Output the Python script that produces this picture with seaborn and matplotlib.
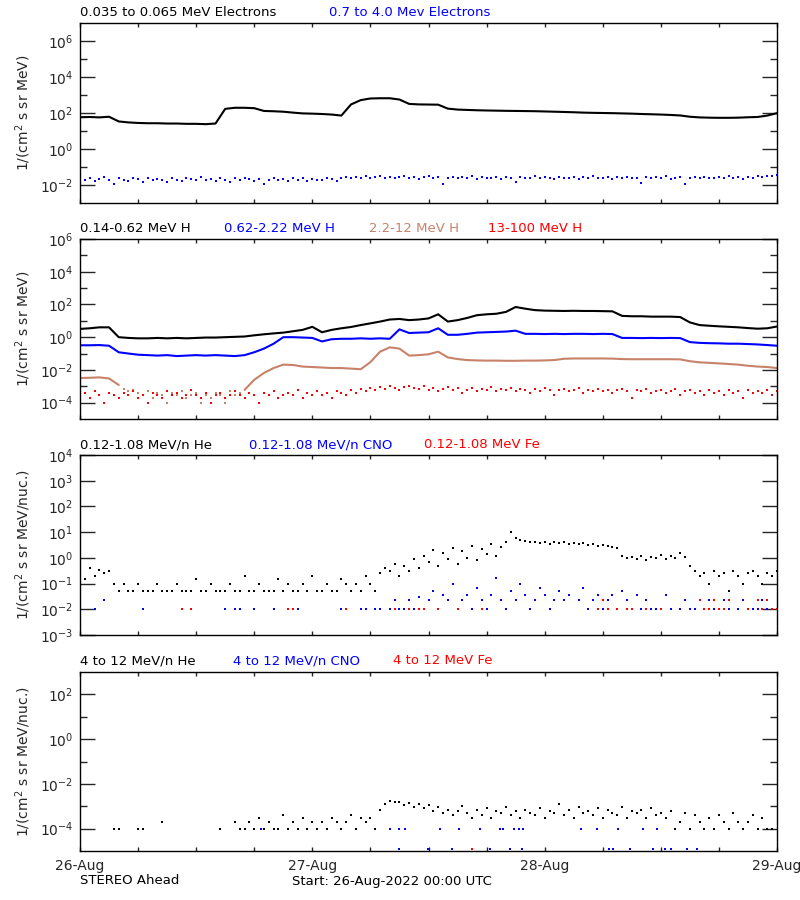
import numpy as np
import matplotlib
matplotlib.use("Agg")
import matplotlib.pyplot as plt
from matplotlib.ticker import FixedLocator, FixedFormatter, NullFormatter
import seaborn as sns

nan = np.nan
BROWN = "#C8826A"

# time grids, hours after 26-Aug-2022 00:00 UTC
hours = np.arange(0, 73)
half_hours = np.arange(0, 72.5, 0.5)

# panel 1: electrons
e_low = [58, 60, 57, 62, 34, 30, 28, 27, 27, 26, 26, 25, 25, 24, 26,
         170, 195, 195, 185, 130, 125, 118, 105, 95, 92, 88, 82, 72,
         300, 520, 640, 660, 660, 560, 320, 300, 295, 290,
         175, 155, 148, 142, 138, 135, 132, 130, 128, 126, 122, 118, 114, 110,
         105, 102, 100, 98, 95, 92, 88, 85, 82, 78, 73, 62, 57, 55, 54, 54,
         55, 58, 60, 72, 98]
e_high = [0.022, 0.018, 0.025, 0.016, 0.021, 0.027, 0.019, 0.012, 0.023, 0.020,
          0.017, 0.024, 0.021, 0.015, 0.026, 0.019, 0.022, 0.018, 0.014, 0.023,
          0.020, 0.016, 0.025, 0.021, 0.018, 0.028, 0.019, 0.022, 0.017, 0.024,
          0.020, 0.015, 0.023, 0.019, 0.026, 0.021, 0.017, 0.022, 0.012, 0.020,
          0.024, 0.018, 0.021, 0.016, 0.023, 0.019, 0.025, 0.017, 0.022, 0.020,
          0.018, 0.024, 0.021, 0.016, 0.026, 0.027, 0.023, 0.029, 0.025, 0.030,
          0.024, 0.028, 0.032, 0.026, 0.029, 0.023, 0.027, 0.031, 0.025, 0.028,
          0.022, 0.027, 0.030, 0.024, 0.028, 0.012, 0.026, 0.029, 0.023, 0.027,
          0.025, 0.030, 0.022, 0.028, 0.026, 0.024, 0.029, 0.021, 0.027, 0.025,
          0.014, 0.028, 0.024, 0.026, 0.030, 0.023, 0.027, 0.025, 0.022, 0.029,
          0.026, 0.024, 0.028, 0.021, 0.027, 0.025, 0.030, 0.023, 0.026, 0.028,
          0.022, 0.027, 0.025, 0.029, 0.024, 0.026, 0.013, 0.028, 0.023, 0.027,
          0.025, 0.030, 0.022, 0.026, 0.028, 0.011, 0.024, 0.027, 0.025, 0.029,
          0.023, 0.026, 0.028, 0.024, 0.030, 0.025, 0.027, 0.022, 0.029, 0.026,
          0.031, 0.028, 0.033, 0.030, 0.034]

# panel 2: protons
h_p1 = [3.2, 3.5, 4.0, 4.0, 1.0, 0.9, 0.85, 0.85, 0.9, 0.85,
        0.9, 0.85, 0.9, 0.95, 0.95, 1.0, 1.05, 1.1, 1.3, 1.5,
        1.7, 1.9, 2.3, 2.8, 4.3, 2.0, 2.8, 3.5, 4.2, 5.5,
        7.0, 9.0, 12, 13, 11, 12, 14, 25, 9, 11,
        15, 22, 25, 27, 35, 70, 55, 45, 42, 41,
        40, 41, 40, 40, 39, 38, 20, 19, 19, 18,
        18, 18, 17, 8.0, 5.5, 5.0, 4.6, 4.3, 4.0, 3.6,
        3.3, 3.5, 4.5]
h_p2 = [0.32, 0.32, 0.33, 0.30, 0.12, 0.10, 0.085, 0.08, 0.075, 0.08,
        0.07, 0.075, 0.08, 0.075, 0.08, 0.075, 0.07, 0.08, 0.12, 0.20,
        0.40, 1.0, 1.0, 0.95, 0.9, 0.55, 0.75, 0.8, 0.8, 0.85,
        0.8, 0.85, 0.8, 3.0, 1.8, 1.9, 2.0, 3.5, 1.4, 1.4,
        1.6, 1.9, 2.0, 2.1, 2.2, 2.5, 1.6, 1.6, 1.55, 1.6,
        1.55, 1.6, 1.6, 1.55, 1.6, 1.55, 0.9, 0.9, 0.88, 0.9,
        0.88, 0.9, 0.88, 0.5, 0.45, 0.43, 0.42, 0.4, 0.4, 0.38,
        0.36, 0.33, 0.3]
h_p3_early = [0.0032, 0.0033, 0.0035, 0.0030, 0.0012]          # h 0-4
h_p3_noise = [7e-4, 5e-4, 6e-4, 4e-4, 3e-4, 5e-4, 2e-4, 4e-4, 3e-4, 1e-4,
              4e-4, 3e-4, 5e-4, 2e-4, 3e-4, 4e-4, 1e-4, 3e-4, 2e-4, 4e-4,
              3e-4, 1e-4, 5e-4, 3e-4, 4e-4]                      # h 4.5-16.5
h_p3 = [0.0006, 0.0025, 0.0065, 0.013, 0.021, 0.02, 0.016, 0.015, 0.014, 0.013,
        0.013, 0.012, 0.011, 0.03, 0.13, 0.24, 0.2, 0.075, 0.08, 0.09,
        0.13, 0.058, 0.046, 0.04, 0.038, 0.037, 0.037, 0.036, 0.036, 0.037,
        0.037, 0.038, 0.04, 0.048, 0.05, 0.05, 0.05, 0.05, 0.049, 0.046,
        0.045, 0.045, 0.045, 0.045, 0.045, 0.044, 0.034, 0.029, 0.027, 0.025,
        0.023, 0.021, 0.018, 0.016, 0.015, 0.013]                # h 17-72
h_p4 = [3e-4, 4e-4, 2e-4, 5e-4, 3e-4, 1e-4, 4e-4, 3e-4, 2e-4, 4e-4,
        3e-4, 5e-4, 2e-4, 3e-4, 1e-4, 4e-4, 3e-4, 2e-4, 5e-4, 3e-4,
        4e-4, 2e-4, 3e-4, 6e-4, 3e-4, 2e-4, 4e-4, 1e-4, 3e-4, 4e-4,
        2e-4, 3e-4, 5e-4, 3e-4, 2e-4, 4e-4, 3e-4, 1e-4, 4e-4, 3e-4,
        5e-4, 2e-4, 3e-4, 4e-4, 3e-4, 6e-4, 2e-4, 4e-4, 3e-4, 5e-4,
        3e-4, 4e-4, 2e-4, 5e-4, 4e-4, 3e-4, 6e-4, 4e-4, 7e-4, 5e-4,
        8e-4, 6e-4, 9e-4, 7e-4, 1e-3, 8e-4, 6e-4, 9e-4, 1.1e-3, 8e-4,
        7e-4, 1e-3, 6e-4, 8e-4, 5e-4, 7e-4, 9e-4, 6e-4, 8e-4, 4e-4,
        6e-4, 8e-4, 5e-4, 7e-4, 6e-4, 9e-4, 5e-4, 7e-4, 6e-4, 8e-4,
        5e-4, 7e-4, 6e-4, 4e-4, 7e-4, 5e-4, 8e-4, 6e-4, 3e-4, 6e-4,
        7e-4, 5e-4, 6e-4, 8e-4, 4e-4, 6e-4, 5e-4, 7e-4, 5e-4, 6e-4,
        4e-4, 6e-4, 7e-4, 5e-4, 2e-4, 6e-4, 5e-4, 7e-4, 4e-4, 5e-4,
        6e-4, 4e-4, 5e-4, 7e-4, 3e-4, 5e-4, 6e-4, 4e-4, 5e-4, 3e-4,
        6e-4, 4e-4, 5e-4, 3e-4, 6e-4, 4e-4, 5e-4, 2e-4, 6e-4, 4e-4,
        5e-4, 4e-4, 6e-4, 3e-4, 5e-4]

# panel 3: 0.12-1.08 MeV/n ions (30-minute values)
he_low = [0.3, 0.15, 0.4, 0.2, 0.35, 0.25, 0.3, 0.1, 0.05, 0.1,
          0.05, 0.05, 0.1, 0.05, 0.05, 0.05, 0.1, 0.05, 0.05, 0.05,
          0.1, 0.05, 0.05, 0.05, 0.15, 0.05, 0.05, 0.1, 0.05, 0.05,
          0.05, 0.1, 0.05, 0.05, 0.2, 0.05, 0.05, 0.1, 0.05, 0.05,
          0.05, 0.15, 0.05, 0.1, 0.05, 0.05, 0.1, 0.05, 0.2, 0.05,
          0.05, 0.1, 0.05, 0.05, 0.15, 0.1, 0.05, 0.1, 0.05, 0.2,
          0.1, 0.05, 0.25, 0.4, 0.3, 0.6, 0.2, 0.5, 0.3, 0.9,
          0.4, 1.2, 0.7, 2.0, 0.5, 1.5, 0.9, 2.5, 0.6, 1.8,
          1.0, 3.0, 0.8, 2.2, 1.4, 3.5, 1.2, 2.6, 4.0, 10,
          6, 5, 4.5, 4, 4.2, 3.8, 4.2, 3.6, 4.0, 3.7,
          4.3, 3.5, 3.9, 3.4, 3.8, 3.3, 3.6, 3.0, 3.2, 2.8,
          2.6, 2.4, 1.2, 1.0, 1.1, 0.9, 1.2, 0.8, 1.1, 1.0,
          1.3, 0.9, 1.2, 1.0, 1.5, 1.1, 0.5, 0.3, 0.2, 0.25,
          0.1, 0.3, 0.2, 0.25, 0.05, 0.3, 0.2, 0.1, 0.25, 0.3,
          0.2, 0.1, 0.25, 0.2, 0.3]
cno_low = [nan, nan, nan, 0.01, nan, 0.022, nan, nan, nan, nan,
           nan, nan, nan, 0.01, nan, nan, nan, nan, nan, nan,
           nan, nan, nan, nan, nan, nan, nan, nan, nan, nan,
           0.01, nan, 0.01, 0.01, nan, nan, 0.01, nan, nan, nan,
           0.01, nan, nan, 0.01, 0.01, 0.01, nan, nan, nan, nan,
           nan, nan, nan, nan, 0.01, 0.01, nan, nan, 0.01, 0.01,
           nan, 0.01, 0.01, nan, 0.01, 0.022, 0.01, 0.01, 0.022, 0.01,
           0.03, 0.01, 0.022, 0.05, 0.01, 0.035, 0.022, 0.1, 0.01, 0.022,
           0.035, 0.01, 0.07, 0.022, 0.01, 0.035, 0.16, 0.022, 0.01, 0.05,
           0.022, 0.1, 0.035, 0.01, 0.022, 0.07, 0.035, 0.01, 0.022, 0.05,
           0.022, 0.035, nan, 0.022, 0.07, 0.01, 0.022, 0.035, 0.01, 0.022,
           0.035, 0.01, 0.05, 0.022, 0.01, 0.035, 0.01, 0.022, 0.01, 0.01,
           0.01, 0.035, 0.01, nan, 0.01, 0.022, 0.01, 0.01, nan, 0.01,
           0.022, 0.01, 0.01, 0.022, 0.01, nan, 0.01, 0.022, 0.01, 0.01,
           0.01, 0.022, 0.01, nan, 0.01]
fe_low = [nan, nan, nan, nan, nan, nan, nan, nan, nan, nan,
          nan, nan, nan, nan, nan, nan, nan, nan, nan, nan,
          nan, 0.01, nan, 0.01, nan, nan, nan, nan, nan, nan,
          nan, nan, nan, nan, nan, nan, nan, nan, nan, nan,
          nan, nan, nan, 0.01, 0.01, nan, nan, nan, nan, nan,
          nan, nan, nan, nan, nan, 0.01, nan, nan, nan, nan,
          nan, nan, nan, nan, nan, 0.01, nan, nan, 0.01, nan,
          0.01, 0.01, nan, nan, 0.01, nan, nan, nan, 0.01, nan,
          nan, nan, nan, 0.01, nan, nan, nan, nan, nan, nan,
          nan, nan, nan, nan, nan, nan, nan, nan, nan, nan,
          nan, nan, nan, nan, nan, nan, nan, 0.01, 0.022, 0.01,
          nan, 0.01, nan, 0.01, 0.01, nan, nan, 0.01, nan, nan,
          0.01, nan, nan, nan, nan, nan, nan, nan, 0.022, 0.01,
          0.01, 0.022, 0.01, 0.01, 0.022, nan, nan, nan, 0.01, nan,
          0.022, 0.01, 0.022, 0.01, 0.01]

# panel 4: 4-12 MeV/n ions
he_high = [nan, nan, nan, nan, nan, nan, nan, 1e-4, 1e-4, nan,
           nan, nan, 1e-4, 1e-4, nan, nan, nan, 2e-4, nan, nan,
           nan, nan, nan, nan, nan, nan, nan, nan, nan, 1e-4,
           nan, nan, 2e-4, 1e-4, 1e-4, 2e-4, 1e-4, 3e-4, 1e-4, 2e-4,
           1e-4, 1e-4, 4e-4, 1e-4, 2e-4, 1e-4, 3e-4, 1e-4, 2e-4, 1e-4,
           2e-4, 1e-4, 3e-4, 2e-4, 1e-4, 2e-4, 4e-4, 1e-4, 3e-4, 2e-4,
           3e-4, 1e-4, 7e-4, 1.2e-3, 1.8e-3, 1.5e-3, 1.6e-3, 1.1e-3, 1.4e-3, 9e-4,
           1.3e-3, 8e-4, 1.1e-3, 6e-4, 9e-4, 5e-4, 7e-4, 4e-4, 6e-4, 1e-3,
           5e-4, 3e-4, 7e-4, 4e-4, 8e-4, 3e-4, 6e-4, 5e-4, 9e-4, 4e-4,
           6e-4, 3e-4, 7e-4, 5e-4, 4e-4, 8e-4, 3e-4, 6e-4, 5e-4, 1.2e-3,
           4e-4, 7e-4, 3e-4, 9e-4, 5e-4, 6e-4, 4e-4, 8e-4, 3e-4, 7e-4,
           5e-4, 4e-4, 9e-4, 3e-4, 6e-4, 5e-4, 7e-4, 3e-4, 8e-4, 4e-4,
           5e-4, 3e-4, 6e-4, 1e-4, 2e-4, 5e-4, 1e-4, 4e-4, 2e-4, 1e-4,
           3e-4, 1e-4, 4e-4, 2e-4, 1e-4, 5e-4, 2e-4, 1e-4, 2e-4, 4e-4,
           1e-4, 3e-4, 1e-4, 1e-4, nan]
cno_high_hours = [18.7, 32.0, 33.0, 33.0, 33.6, 35.9, 37.2, 38.4, 39.1, 41.3,
                  42.4, 43.4, 43.7, 44.4, 44.8, 45.3, 45.7, 45.8, 51.8, 53.4,
                  54.6, 55.1, 55.6, 56.8, 58.2, 59.2, 59.6, 60.4, 61.0, 62.7, 63.7]
cno_high = [1e-4, 1e-4, 1e-4, 1.25e-5, 1e-4, 1.25e-5, 1e-4, 1.25e-5, 1e-4, 1e-4,
            1.25e-5, 1e-4, 1e-4, 1.25e-5, 1e-4, 1e-4, 1.25e-5, 1e-4, 1e-4, 1e-4,
            1.25e-5, 1.25e-5, 1e-4, 1.25e-5, 1e-4, 1.25e-5, 1e-4, 1.25e-5, 1.25e-5,
            1.25e-5, 1.25e-5]
fe_high_hours = [40.5]
fe_high = [1.25e-5]

day_labels = ["26-Aug", "27-Aug", "28-Aug", "29-Aug"]


def draw_line(ax, x, y, color):
    sns.lineplot(x=x, y=y, ax=ax, color=color, lw=1.5, estimator=None,
                 sort=False, legend=False)


def draw_dots(ax, x, y, color):
    sns.scatterplot(x=x, y=y, ax=ax, color=color, marker="s", s=3,
                    linewidth=0, legend=False)


def style_axis(ax, ylim, labeled, unlabeled, ylabel):
    ax.set_xlim(0, 72)
    ax.set_ylim(*ylim)
    ax.yaxis.set_major_locator(FixedLocator([10.0 ** k for k in labeled]))
    ax.yaxis.set_major_formatter(FixedFormatter([r"10$^{%d}$" % k for k in labeled]))
    ax.yaxis.set_minor_locator(FixedLocator([10.0 ** k for k in unlabeled]))
    ax.yaxis.set_minor_formatter(NullFormatter())
    ax.xaxis.set_major_locator(FixedLocator([0, 24, 48, 72]))
    ax.xaxis.set_minor_locator(FixedLocator([6, 12, 18, 30, 36, 42, 54, 60, 66]))
    ax.tick_params(axis="y", which="major", direction="in", length=11, width=1,
                   left=True, right=True, labelsize=10, pad=5)
    ax.tick_params(axis="y", which="minor", direction="in", length=5, width=1,
                   left=True, right=True)
    ax.tick_params(axis="x", which="both", direction="in", length=3, width=1,
                   top=True, bottom=True, labelbottom=False)
    for sp in ax.spines.values():
        sp.set_linewidth(1.0)
        sp.set_color("black")
    ax.set_xlabel("")
    ax.set_ylabel(ylabel, fontsize=10)
    ax.yaxis.set_label_coords(-0.067, 0.5)


def label_row(fig, ypix, items):
    for xpix, text, color in items:
        fig.text(xpix / 800, 1 - ypix / 900, text, color=color, fontsize=9.5,
                 ha="left", va="center")


def main():
    sns.set_style("white")
    plt.rcParams["font.family"] = ["DejaVu Sans"]

    fig = plt.figure(figsize=(8, 9), dpi=100)
    ax1 = fig.add_axes([0.1, 1 - 203 / 900, 0.87125, 0.2])
    ax2 = fig.add_axes([0.1, 1 - 419 / 900, 0.87125, 0.2])
    ax3 = fig.add_axes([0.1, 1 - 635 / 900, 0.87125, 0.2])
    ax4 = fig.add_axes([0.1, 1 - 851 / 900, 0.87125, 179 / 900])
    for ax in (ax1, ax2, ax3, ax4):
        ax.set_yscale("log")

    draw_line(ax1, hours, e_low, "black")
    draw_dots(ax1, half_hours, e_high, "blue")

    draw_line(ax2, hours, h_p1, "black")
    draw_line(ax2, hours, h_p2, "blue")
    draw_line(ax2, hours[:5], h_p3_early, BROWN)
    draw_dots(ax2, half_hours[9:34], h_p3_noise, BROWN)
    draw_line(ax2, hours[17:], h_p3, BROWN)
    draw_dots(ax2, half_hours, h_p4, "red")

    draw_dots(ax3, half_hours, he_low, "black")
    draw_dots(ax3, half_hours, cno_low, "blue")
    draw_dots(ax3, half_hours, fe_low, "red")

    draw_dots(ax4, half_hours, he_high, "black")
    draw_dots(ax4, cno_high_hours, cno_high, "blue")
    draw_dots(ax4, fe_high_hours, fe_high, "red")

    style_axis(ax1, (1e-3, 1e7), [6, 4, 2, 0, -2], [5, 3, 1, -1], "1/(cm$^2$ s sr MeV)")
    style_axis(ax2, (1e-5, 1e6), [6, 4, 2, 0, -2, -4], [5, 3, 1, -1, -3], "1/(cm$^2$ s sr MeV)")
    style_axis(ax3, (1e-3, 1e4), [4, 3, 2, 1, 0, -1, -2, -3], [], "1/(cm$^2$ s sr MeV/nuc.)")
    style_axis(ax4, (1e-5, 1e3), [2, 0, -2, -4], [1, -1, -3], "1/(cm$^2$ s sr MeV/nuc.)")

    ax4.set_xticklabels(day_labels)
    ax4.tick_params(axis="x", which="major", labelbottom=True, labelsize=10, pad=6)

    label_row(fig, 13, [(80, "0.035 to 0.065 MeV Electrons", "black"),
                        (329, "0.7 to 4.0 Mev Electrons", "blue")])
    label_row(fig, 229, [(80, "0.14-0.62 MeV H", "black"),
                         (224, "0.62-2.22 MeV H", "blue"),
                         (369, "2.2-12 MeV H", BROWN),
                         (488, "13-100 MeV H", "red")])
    label_row(fig, 445, [(80, "0.12-1.08 MeV/n He", "black"),
                         (249, "0.12-1.08 MeV/n CNO", "blue"),
                         (424, "0.12-1.08 MeV Fe", "red")])
    label_row(fig, 661, [(80, "4 to 12 MeV/n He", "black"),
                         (233, "4 to 12 MeV/n CNO", "blue"),
                         (393, "4 to 12 MeV Fe", "red")])
    label_row(fig, 881, [(80, "STEREO Ahead", "black"),
                         (292, "Start: 26-Aug-2022 00:00 UTC", "black")])

    fig.savefig("out.png", dpi=100, facecolor="white")


if __name__ == "__main__":
    main()
